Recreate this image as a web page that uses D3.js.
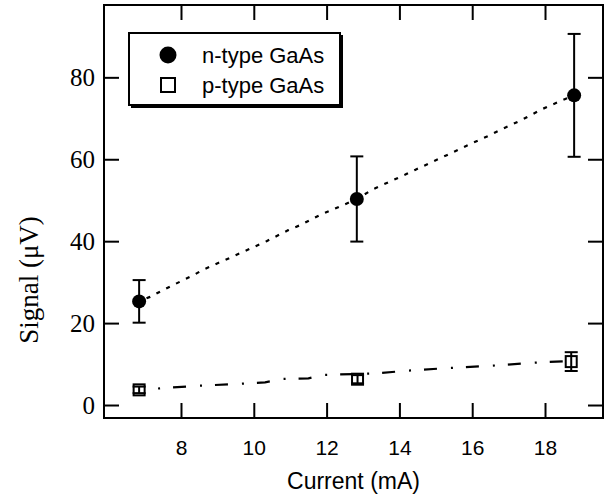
<!DOCTYPE html>
<html>
<head>
<meta charset="utf-8">
<script src="https://cdn.jsdelivr.net/npm/d3@7"></script>
<style>
  body { margin: 0; background: #fff; }
</style>
</head>
<body>
<div id="chart"></div>
<script>
// data
var currentN = [6.85, 12.83, 18.8],
    signalN = [25.3, 50.3, 75.6],
    errN = [5.2, 10.4, 15.0];
var currentP = [6.85, 12.85, 18.72],
    signalP = [3.7, 6.3, 10.6],
    errP = [0.8, 1.0, 2.3];

// fitted curves (dotted / dash-dot)
var fitNx = [6.85, 7.15, 7.74, 8.34, 8.60, 9.21, 9.76, 10.35, 10.95, 11.27, 11.82, 12.45, 12.83, 13.28, 14.15, 14.43, 15.30, 15.89, 16.49, 16.76, 17.36, 17.91, 18.50, 18.80],
    fitNy = [25.3, 26.4, 29.1, 31.7, 33.0, 35.4, 37.6, 40.0, 42.7, 43.9, 46.4, 48.8, 50.3, 52.7, 56.2, 57.4, 61.0, 63.5, 65.9, 67.1, 69.6, 72.2, 74.5, 75.6];
var fitPx = [6.85, 8.34, 9.53, 10.31, 10.77, 11.50, 11.87, 13.40, 14.20, 15.34, 16.54, 17.68, 18.07, 18.60],
    fitPy = [3.7, 4.64, 5.13, 5.54, 6.35, 6.52, 7.32, 7.74, 8.37, 9.03, 9.59, 10.33, 10.5, 10.7];

var xTicks = [8, 10, 12, 14, 16, 18],
    yTicks = [0, 20, 40, 60, 80];
var seriesNames = ["n-type GaAs", "p-type GaAs"];

var width = 608, height = 497;
var margin = {top: 5, right: 5, bottom: 79, left: 104};

var svg = d3.select("#chart")
    .append("svg")
    .attr("width", width)
    .attr("height", height);

// scales
var x = d3.scaleLinear()
    .domain([5.885, 19.593])
    .range([margin.left, width - margin.right]);

var y = d3.scaleLinear()
    .domain([-3.17, 97.66])
    .range([height - margin.bottom, margin.top]);

var tickLen = 15;

// axes, ticks pointing inward
function xAxis(g) {
    g.attr("transform", `translate(0,${height - margin.bottom})`)
        .call(d3.axisBottom(x).tickValues(xTicks).tickSizeInner(-tickLen).tickSizeOuter(0).tickPadding(22))
        .attr("font-family", "Liberation Sans, Arial, sans-serif")
        .attr("font-size", "21px");
}
function xAxisTop(g) {
    g.attr("transform", `translate(0,${margin.top})`)
        .call(d3.axisTop(x).tickValues(xTicks).tickSizeInner(-tickLen).tickSizeOuter(0).tickFormat(""));
}
function yAxis(g) {
    g.attr("transform", `translate(${margin.left},0)`)
        .call(d3.axisLeft(y).tickValues(yTicks).tickSizeInner(-tickLen).tickSizeOuter(0).tickPadding(9))
        .attr("font-family", "Liberation Serif, Times New Roman, serif")
        .attr("font-size", "25px");
}
function yAxisRight(g) {
    g.attr("transform", `translate(${width - margin.right},0)`)
        .call(d3.axisRight(y).tickValues(yTicks).tickSizeInner(-tickLen).tickSizeOuter(0).tickFormat(""));
}

[xAxis, xAxisTop, yAxis, yAxisRight].forEach(function (f) {
    var g = svg.append("g").call(f);
    g.select(".domain").remove();
    g.selectAll(".tick line").attr("stroke", "#000").attr("stroke-width", 2);
    g.selectAll(".tick text").attr("fill", "#000");
});

// frame
svg.append("rect")
    .attr("x", margin.left)
    .attr("y", margin.top)
    .attr("width", width - margin.left - margin.right)
    .attr("height", height - margin.top - margin.bottom)
    .attr("fill", "none")
    .attr("stroke", "#000")
    .attr("stroke-width", 2);

// fit lines
var line = d3.line()
    .x(d => x(d[0]))
    .y(d => y(d[1]));

svg.append("path")
    .datum(d3.zip(fitNx, fitNy))
    .attr("d", line)
    .attr("fill", "none")
    .attr("stroke", "#000")
    .attr("stroke-width", 2.2)
    .attr("stroke-dasharray", "4,7")
    .attr("stroke-dashoffset", -8);

svg.append("path")
    .datum(d3.zip(fitPx, fitPy))
    .attr("d", line)
    .attr("fill", "none")
    .attr("stroke", "#000")
    .attr("stroke-width", 2.2)
    .attr("stroke-dasharray", "13,14,2,13")
    .attr("stroke-dashoffset", -34);

// error bars
function errorBars(xs, ys, es) {
    var g = svg.append("g").attr("stroke", "#000").attr("stroke-width", 2);
    var d = d3.range(xs.length);
    g.selectAll(".v").data(d).join("line")
        .attr("x1", i => x(xs[i])).attr("x2", i => x(xs[i]))
        .attr("y1", i => y(ys[i] - es[i])).attr("y2", i => y(ys[i] + es[i]));
    g.selectAll(".t").data(d).join("line")
        .attr("x1", i => x(xs[i]) - 6.5).attr("x2", i => x(xs[i]) + 6.5)
        .attr("y1", i => y(ys[i] + es[i])).attr("y2", i => y(ys[i] + es[i]));
    g.selectAll(".b").data(d).join("line")
        .attr("x1", i => x(xs[i]) - 6.5).attr("x2", i => x(xs[i]) + 6.5)
        .attr("y1", i => y(ys[i] - es[i])).attr("y2", i => y(ys[i] - es[i]));
}

// p-type squares, bars drawn over them
svg.append("g")
    .selectAll("rect")
    .data(d3.range(currentP.length))
    .join("rect")
    .attr("x", i => x(currentP[i]) - 5.5)
    .attr("y", i => y(signalP[i]) - 5.5)
    .attr("width", 11)
    .attr("height", 11)
    .attr("fill", "#fff")
    .attr("stroke", "#000")
    .attr("stroke-width", 2);
errorBars(currentP, signalP, errP);

// n-type circles
errorBars(currentN, signalN, errN);
svg.append("g")
    .selectAll("circle")
    .data(d3.range(currentN.length))
    .join("circle")
    .attr("cx", i => x(currentN[i]))
    .attr("cy", i => y(signalN[i]))
    .attr("r", 7)
    .attr("fill", "#000");

// axis titles
svg.append("text")
    .attr("x", (margin.left + width - margin.right) / 2)
    .attr("y", 489)
    .attr("text-anchor", "middle")
    .attr("font-family", "Liberation Sans, Arial, sans-serif")
    .attr("font-size", "23px")
    .text("Current (mA)");

svg.append("text")
    .attr("transform", "translate(38,280) rotate(-90)")
    .attr("text-anchor", "middle")
    .attr("font-family", "Liberation Serif, Times New Roman, serif")
    .attr("font-size", "27px")
    .text("Signal (\u03BCV)");

// legend
var lg = svg.append("g");
lg.append("rect")
    .attr("x", 131).attr("y", 35).attr("width", 212).attr("height", 73)
    .attr("fill", "#000");
lg.append("rect")
    .attr("x", 129).attr("y", 33).attr("width", 211).attr("height", 72)
    .attr("fill", "#fff").attr("stroke", "#000").attr("stroke-width", 2);
lg.append("circle")
    .attr("cx", 168).attr("cy", 55).attr("r", 8.5).attr("fill", "#000");
lg.append("rect")
    .attr("x", 161).attr("y", 78).attr("width", 14).attr("height", 14)
    .attr("fill", "#fff").attr("stroke", "#000").attr("stroke-width", 2);
lg.selectAll("text")
    .data(seriesNames)
    .join("text")
    .attr("x", 202)
    .attr("y", (d, i) => 63 + i * 30)
    .attr("font-family", "Liberation Sans, Arial, sans-serif")
    .attr("font-size", "22px")
    .text(d => d);
</script>
</body>
</html>
